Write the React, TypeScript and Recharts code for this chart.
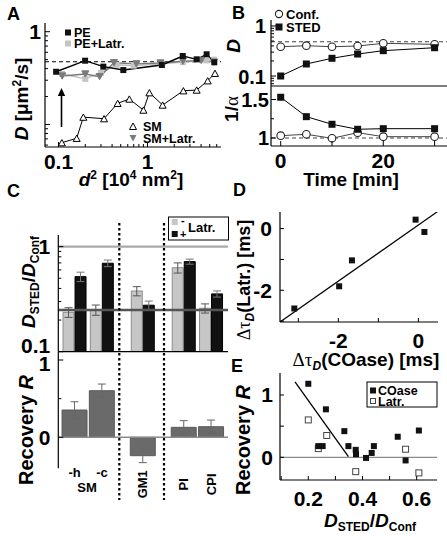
import React from 'react';
import { LineChart, Line, XAxis, YAxis, ReferenceLine, ComposedChart, Bar, ErrorBar, Scatter } from 'recharts';

const FONT = '"Liberation Sans", Arial, Helvetica, sans-serif';
const SERIF = '"Liberation Serif", "DejaVu Serif", serif';

// ---------- Panel A ----------
const aPEx = [0.094, 0.199, 0.319, 0.535, 1.45, 2.49, 3.57, 4.62, 5.63];
const aPEy = [0.37, 0.487, 0.42, 0.386, 0.438, 0.547, 0.504, 0.571, 0.468];
const aPELatrX = [0.11, 0.2, 0.3, 0.45, 0.7, 1.45, 2.5, 4.6, 5.6];
const aPELatrY = [0.35, 0.31, 0.36, 0.44, 0.43, 0.45, 0.47, 0.49, 0.5];
const aSMx = [0.109, 0.16, 0.19, 0.325, 0.462, 0.625, 0.9, 1.05, 1.48, 2.53, 3.57, 4.75, 5.73];
const aSMy = [0.0637, 0.071, 0.12, 0.1155, 0.169, 0.188, 0.143, 0.22, 0.162, 0.231, 0.235, 0.296, 0.356];
const aSMLatrX = [0.11, 0.2, 0.29, 0.42, 0.75, 1.4, 2.5, 4.0, 5.6];
const aSMLatrY = [0.333, 0.35, 0.328, 0.463, 0.45, 0.46, 0.48, 0.49, 0.47];
const aRefD = 0.475;
const aXTicks = [0.1, 0.2, 0.3, 0.4, 0.5, 0.6, 0.7, 0.8, 0.9, 1, 2, 3, 4, 5, 6];
const aXLabels: Record<string, string> = { '0.1': '0.1', '1': '1' };
const aYTicks = [0.06, 0.07, 0.08, 0.09, 0.1, 0.2, 0.3, 0.4, 0.5, 0.6, 0.7, 0.8, 0.9, 1];
const aYLabels: Record<string, string> = { '1': '1', '0.1': '' };

// ---------- Panel B ----------
const bTime = [0, 5, 10, 15, 20, 30];
const bConfD = [0.385, 0.404, 0.385, 0.398, 0.45, 0.43];
const bStedD = [0.1, 0.174, 0.226, 0.275, 0.321, 0.368];
const bConfA = [1.03, 1.048, 0.996, 1.069, 1.017, 1.017];
const bStedA = [1.529, 1.277, 1.178, 1.113, 1.121, 1.121];
const bRefD = 0.485;
const bRefA = 1;
const bXTicks = [0, 10, 20, 30];
const bXLabels: Record<string, string> = { '0': '0', '10': '', '20': '20', '30': '' };
const bDTicks = [0.07, 0.08, 0.09, 0.1, 0.2, 0.3, 0.4, 0.5, 0.6, 0.7, 0.8, 0.9, 1];
const bDLabels: Record<string, string> = { '0.1': '0.1', '1': '1' };
const bATicks = [1, 1.25, 1.5];
const bALabels: Record<string, string> = { '1': '1', '1.5': '1.5' };

// ---------- Panel C ----------
const cCats = ['-h', '-c', 'GM1', 'PI', 'CPI'];
const cPos = [0, 2, 5, 8, 10];
const cMinus = [0.237, 0.25, 0.378, 0.63, 0.259];
const cMinusErr = [0.025, 0.028, 0.038, 0.07, 0.026];
const cPlus = [0.518, 0.695, 0.277, 0.72, 0.355];
const cPlusErr = [0.053, 0.05, 0.026, 0.04, 0.024];
const cRec = [0.353, 0.603, -0.238, 0.129, 0.137];
const cRecErr = [0.107, 0.086, 0.09, 0.086, 0.086];
const cRefOne = 1;
const cRefLevel = 0.25;
const cTopTicks = [0.1, 0.2, 0.3, 0.4, 0.5, 0.6, 0.7, 0.8, 0.9, 1];
const cTopLabels: Record<string, string> = { '0.1': '0.1', '1': '1' };
const cBotTicks = [0, 0.5, 1];
const cBotLabels: Record<string, string> = { '0': '0', '1': '1' };

// ---------- Panel D ----------
const dX = [-3.1, -1.98, -1.66, -0.07, 0.15];
const dY = [-2.59, -1.87, -1.03, 0.29, -0.11];
const dFitX = [-3.45, 0.49];
const dFitY = [-3.02, 0.56];
const dTicks = [-3, -2, -1, 0];
const dLabels: Record<string, string> = { '-2': '-2', '0': '0' };

// ---------- Panel E ----------
const eCOx = [0.2, 0.265, 0.333, 0.348, 0.375, 0.376, 0.413, 0.434, 0.442, 0.53, 0.559, 0.608, 0.253, 0.237];
const eCOy = [1.18, 0.77, 0.42, 0.18, 0.12, 0.05, -0.01, 0.07, 0.18, 0.33, -0.05, 0.43, 0.18, 0.18];
const eLx = [0.2, 0.268, 0.237, 0.375, 0.559, 0.608];
const eLy = [0.6, 0.35, 0.14, -0.23, 0.13, -0.25];
const eFitX = [0.151, 0.348];
const eFitY = [1.21, 0.01];
const eXTicks = [0.1, 0.2, 0.3, 0.4, 0.5, 0.6];
const eXLabels: Record<string, string> = { '0.2': '0.2', '0.4': '0.4', '0.6': '0.6' };
const eYTicks = [0, 0.5, 1];
const eYLabels: Record<string, string> = { '0': '0', '1': '1' };

const pts = (xs: number[], ys: number[]) => xs.map((x, i) => ({ x, y: ys[i] }));
const cData = cCats.map((c, i) => ({
  cat: c, pos: cPos[i], minus: cMinus[i], minusErr: cMinusErr[i], plus: cPlus[i], plusErr: cPlusErr[i], rec: cRec[i], recErr: cRecErr[i],
}));

function geo(px0: number, px1: number, py0: number, py1: number, yw: number, xh: number, mt = 4, mr = 4) {
  const left = px0 - yw;
  const top = py0 - mt;
  return { left, top, width: px1 + mr - left, height: py1 + xh - top, margin: { top: mt, right: mr, left: 0, bottom: 0 }, yw, xh };
}

const mkXTick = (labels: Record<string, string>, dy: number, fs = 21, len = 5, minor = 3) => (p: any) => {
  const { x, y, payload } = p;
  const lab = labels[String(payload.value)];
  const major = lab !== undefined;
  return (
    <g>
      <line x1={x} x2={x} y1={y} y2={y - (major ? len : minor)} stroke="#000" strokeWidth={1} />
      {major && lab !== '' && (
        <text x={x} y={y + dy} textAnchor="middle" fontFamily={FONT} fontWeight="bold" fontSize={fs} fill="#000">{lab}</text>
      )}
    </g>
  );
};

const mkYTick = (labels: Record<string, string>, gap: number, fs = 21, len = 5, minor = 3, dys: Record<string, number> = {}) => (p: any) => {
  const { x, y, payload } = p;
  const key = String(payload.value);
  const lab = labels[key];
  const major = lab !== undefined;
  const dy = dys[key] !== undefined ? dys[key] : 7.5;
  return (
    <g>
      <line x1={x} x2={x + (major ? len : minor)} y1={y} y2={y} stroke="#000" strokeWidth={1} />
      {major && lab !== '' && (
        <text x={x - gap} y={y} dy={dy} textAnchor="end" fontFamily={FONT} fontWeight="bold" fontSize={fs} fill="#000">{lab}</text>
      )}
    </g>
  );
};

const sqDot = (fill: string, s = 6, stroke = 'none') => (p: any) => {
  if (p.cx == null || p.cy == null) return <g key={p.index} />;
  return <rect key={p.index} x={p.cx - s / 2} y={p.cy - s / 2} width={s} height={s} fill={fill} stroke={stroke} strokeWidth={1} />;
};
const triDot = (fill: string, stroke: string, down: boolean, s = 7) => (p: any) => {
  if (p.cx == null || p.cy == null) return <g key={p.index} />;
  const h = s * 0.9;
  const d = down ? -1 : 1;
  const pts2 = `${p.cx - s / 2},${p.cy + (d * h) / 2} ${p.cx + s / 2},${p.cy + (d * h) / 2} ${p.cx},${p.cy - (d * h) / 2}`;
  return <polygon key={p.index} points={pts2} fill={fill} stroke={stroke} strokeWidth={1} />;
};
const circDot = (p: any) => {
  if (p.cx == null || p.cy == null) return <g key={p.index} />;
  return <circle key={p.index} cx={p.cx} cy={p.cy} r={3.8} fill="#fff" stroke="#222" strokeWidth={1.1} />;
};

const AX = { stroke: '#000', strokeWidth: 1.2 };

const Box: React.FC<{ g: any; children: any }> = ({ g, children }) => (
  <div style={{ position: 'absolute', left: g.left, top: g.top }}>{children}</div>
);

export default function App() {
  const gA = geo(45, 221, 23, 147, 45, 30, 5, 5);
  const gBt = geo(271, 447, 20, 86, 46, 1, 5, 0);
  const gBb = geo(271, 447, 86, 146, 46, 30, 4, 0);
  const gCt = geo(58.3, 228, 235, 351.7, 58.3, 20, 4, 4);
  const gCb = geo(58.3, 228, 352, 468.3, 58.3, 40, 10, 4);
  const gD = geo(280, 438, 211.7, 321.7, 50, 30, 5, 9);
  const gE = geo(280, 437, 373, 480, 50, 30, 5, 10);

  const T = (props: any) => <text fontFamily={FONT} fontWeight="bold" fill="#000" {...props} />;

  return (
    <div style={{ position: 'relative', width: 447, height: 540, background: '#fff', overflow: 'hidden' }}>
      <style>{`body{margin:0;}`}</style>

      {/* Panel A */}
      <Box g={gA}>
        <LineChart width={gA.width} height={gA.height} margin={gA.margin}>
          <XAxis type="number" dataKey="x" scale="log" domain={[0.0705, 6.7]} allowDataOverflow ticks={aXTicks} interval={0}
            height={gA.xh} tickSize={0} tickMargin={0} tickLine={false} axisLine={AX} tick={mkXTick(aXLabels, 22)} />
          <YAxis type="number" scale="log" domain={[0.0572, 1.241]} allowDataOverflow ticks={aYTicks} interval={0}
            width={gA.yw} tickSize={0} tickMargin={0} tickLine={false} axisLine={AX} tick={mkYTick(aYLabels, 4)} />
          <ReferenceLine y={aRefD} stroke="#000" strokeWidth={1.1} strokeDasharray="4 3" />
          <Line data={pts(aPELatrX, aPELatrY)} dataKey="y" stroke="#bdbdbd" strokeWidth={1.4} dot={sqDot('#c4c4c4')} isAnimationActive={false} />
          <Line data={pts(aSMLatrX, aSMLatrY)} dataKey="y" stroke="#7a7a7a" strokeWidth={1.4} dot={triDot('#7a7a7a', '#7a7a7a', true)} isAnimationActive={false} />
          <Line data={pts(aSMx, aSMy)} dataKey="y" stroke="#000" strokeWidth={1} dot={triDot('#fff', '#000', false)} isAnimationActive={false} />
          <Line data={pts(aPEx, aPEy)} dataKey="y" stroke="#000" strokeWidth={1.4} dot={sqDot('#111')} isAnimationActive={false} />
        </LineChart>
      </Box>

      {/* Panel B top */}
      <Box g={gBt}>
        <LineChart width={gBt.width} height={gBt.height} margin={gBt.margin}>
          <XAxis type="number" dataKey="x" domain={[-1.89, 32.42]} allowDataOverflow height={gBt.xh} tick={false} tickLine={false} axisLine={AX} />
          <YAxis type="number" scale="log" domain={[0.0631, 1.318]} allowDataOverflow ticks={bDTicks} interval={0}
            width={gBt.yw} tickSize={0} tickMargin={0} tickLine={false} axisLine={AX} tick={mkYTick(bDLabels, 5, 20)} />
          <ReferenceLine y={bRefD} stroke="#444" strokeWidth={1.1} strokeDasharray="4 3" />
          <Line data={pts(bTime, bConfD)} dataKey="y" stroke="#444" strokeWidth={1} dot={circDot} isAnimationActive={false} />
          <Line data={pts(bTime, bStedD)} dataKey="y" stroke="#000" strokeWidth={1} dot={sqDot('#111', 7)} isAnimationActive={false} />
        </LineChart>
      </Box>

      {/* Panel B bottom */}
      <Box g={gBb}>
        <LineChart width={gBb.width} height={gBb.height} margin={gBb.margin}>
          <XAxis type="number" dataKey="x" domain={[-1.89, 32.42]} allowDataOverflow ticks={bXTicks} interval={0}
            height={gBb.xh} tickSize={0} tickMargin={0} tickLine={false} axisLine={AX} tick={mkXTick(bXLabels, 22)} />
          <YAxis type="number" domain={[0.896, 1.675]} allowDataOverflow ticks={bATicks} interval={0}
            width={gBb.yw} tickSize={0} tickMargin={0} tickLine={false} axisLine={AX} tick={mkYTick(bALabels, 2, 20)} />
          <ReferenceLine y={bRefA} stroke="#444" strokeWidth={1.1} strokeDasharray="4 3" />
          <Line data={pts(bTime, bConfA)} dataKey="y" stroke="#444" strokeWidth={1} dot={circDot} isAnimationActive={false} />
          <Line data={pts(bTime, bStedA)} dataKey="y" stroke="#000" strokeWidth={1} dot={sqDot('#111', 7)} isAnimationActive={false} />
        </LineChart>
      </Box>

      {/* Panel C top */}
      <Box g={gCt}>
        <ComposedChart width={gCt.width} height={gCt.height} margin={gCt.margin} data={cData} barGap={1}>
          <XAxis type="number" dataKey="pos" domain={[-1.2, 11.23]} allowDataOverflow ticks={cPos} interval={0} height={gCt.xh} tick={false} tickLine={false} axisLine={AX} />
          <YAxis type="number" scale="log" domain={[0.1, 1.29]} allowDataOverflow ticks={cTopTicks} interval={0}
            width={gCt.yw} tickSize={0} tickMargin={0} tickLine={false} axisLine={AX} tick={mkYTick(cTopLabels, 8, 21, 5, 3, { '0.1': 1 })} />
          <Bar dataKey="minus" barSize={11} fill="#c6c6c6" stroke="#8c8c8c" strokeWidth={1} isAnimationActive={false}>
            <ErrorBar dataKey="minusErr" width={4} stroke="#555" strokeWidth={1} />
          </Bar>
          <Bar dataKey="plus" barSize={11} fill="#111" stroke="#000" strokeWidth={1} isAnimationActive={false}>
            <ErrorBar dataKey="plusErr" width={4} stroke="#777" strokeWidth={1} />
          </Bar>
          <ReferenceLine y={cRefOne} stroke="#aaa" strokeWidth={2.2} />
          <ReferenceLine y={cRefLevel} stroke="#555" strokeWidth={2.5} />
        </ComposedChart>
      </Box>

      {/* Panel C bottom */}
      <Box g={gCb}>
        <ComposedChart width={gCb.width} height={gCb.height} margin={gCb.margin} data={cData}>
          <XAxis type="number" dataKey="pos" domain={[-1.2, 11.23]} allowDataOverflow ticks={cPos} interval={0} height={gCb.xh}
            tickSize={0} tickMargin={0} tickLine={false} axisLine={false}
            tick={(p: any) => {
              const i = cPos.indexOf(p.payload.value);
              const lab = cCats[i];
              if (i < 2) {
                return <text x={p.x} y={p.y + 9} textAnchor="middle" fontFamily={FONT} fontWeight="bold" fontSize={13} fill="#000">{lab}</text>;
              }
              return (
                <text transform={`translate(${p.x},${p.y + 16}) rotate(-90)`} dy={4.5} textAnchor="middle" fontFamily={FONT} fontWeight="bold" fontSize={13} fill="#000">{lab}</text>
              );
            }} />
          <YAxis type="number" domain={[-0.401, 1.1035]} allowDataOverflow ticks={cBotTicks} interval={0}
            width={gCb.yw} tickSize={0} tickMargin={0} tickLine={false} axisLine={AX} tick={mkYTick(cBotLabels, 8, 21, 5, 3, { '1': 11 })} />
          <ReferenceLine y={0} stroke="#8a8a8a" strokeWidth={1.5} />
          <Bar dataKey="rec" barSize={25} fill="#6a6a6a" stroke="#5a5a5a" strokeWidth={1} isAnimationActive={false}>
            <ErrorBar dataKey="recErr" width={4} stroke="#666" strokeWidth={1} />
          </Bar>
        </ComposedChart>
      </Box>

      {/* Panel D */}
      <Box g={gD}>
        <ComposedChart width={gD.width} height={gD.height} margin={gD.margin}>
          <XAxis type="number" dataKey="x" domain={[-3.458, 0.49]} allowDataOverflow ticks={dTicks} interval={0}
            height={gD.xh} tickSize={0} tickMargin={0} tickLine={false} axisLine={AX} tick={mkXTick(dLabels, 26, 21, 4, 4)} />
          <YAxis type="number" dataKey="y" domain={[-3.028, 0.538]} allowDataOverflow ticks={dTicks} interval={0}
            width={gD.yw} tickSize={0} tickMargin={0} tickLine={false} axisLine={AX} tick={mkYTick(dLabels, 8, 21, 4, 4)} />
          <Line data={pts(dFitX, dFitY)} dataKey="y" stroke="#000" strokeWidth={1.3} dot={false} isAnimationActive={false} />
          <Scatter data={pts(dX, dY)} fill="#111" shape={sqDot('#111', 6)} isAnimationActive={false} />
        </ComposedChart>
      </Box>

      {/* Panel E */}
      <Box g={gE}>
        <ComposedChart width={gE.width} height={gE.height} margin={gE.margin}>
          <XAxis type="number" dataKey="x" domain={[0.0956, 0.6749]} allowDataOverflow ticks={eXTicks} interval={0}
            height={gE.xh} tickSize={0} tickMargin={0} tickLine={false} axisLine={AX} tick={mkXTick(eXLabels, 26, 21, 4, 4)} />
          <YAxis type="number" dataKey="y" domain={[-0.364, 1.353]} allowDataOverflow ticks={eYTicks} interval={0}
            width={gE.yw} tickSize={0} tickMargin={0} tickLine={false} axisLine={AX} tick={mkYTick(eYLabels, 7, 21, 4, 4)} />
          <ReferenceLine y={0} stroke="#8a8a8a" strokeWidth={1.3} />
          <Line data={pts(eFitX, eFitY)} dataKey="y" stroke="#000" strokeWidth={1.3} dot={false} isAnimationActive={false} />
          <Scatter data={pts(eLx, eLy)} fill="#fff" shape={sqDot('#fff', 6, '#444')} isAnimationActive={false} />
          <Scatter data={pts(eCOx, eCOy)} fill="#111" shape={sqDot('#111', 6)} isAnimationActive={false} />
        </ComposedChart>
      </Box>

      {/* Overlay texts and annotations */}
      <svg width={447} height={540} style={{ position: 'absolute', left: 0, top: 0, pointerEvents: 'none' }}>
        {/* Panel letters */}
        <T x={7} y={20} fontSize={18}>A</T>
        <T x={232} y={19} fontSize={18}>B</T>
        <T x={7} y={197} fontSize={18}>C</T>
        <T x={233} y={196} fontSize={18}>D</T>
        <T x={231} y={372} fontSize={18}>E</T>

        {/* A legend */}
        <rect x={65} y={29.5} width={6} height={6} fill="#111" />
        <T x={74} y={36.5} fontSize={12.5}>PE</T>
        <rect x={65} y={40.5} width={6} height={6} fill="#c4c4c4" />
        <T x={74} y={48} fontSize={12.5}>PE+Latr.</T>
        <polygon points="129.5,129.5 136.5,129.5 133,123" fill="#fff" stroke="#000" strokeWidth={1} />
        <T x={143} y={131} fontSize={12.5}>SM</T>
        <polygon points="129.5,135 136.5,135 133,141.5" fill="#7a7a7a" />
        <T x={143} y={143} fontSize={12.5}>SM+Latr.</T>
        {/* A arrow */}
        <line x1={61.5} y1={127} x2={61.5} y2={95} stroke="#000" strokeWidth={1.6} />
        <polygon points="57.8,96 65.2,96 61.5,88" fill="#000" />
        {/* A axis titles */}
        <T transform="translate(21,99) rotate(-90)" textAnchor="middle" dy={7} fontSize={19}>
          <tspan fontStyle="italic">D</tspan><tspan> [μm</tspan><tspan dy={-7} fontSize={12}>2</tspan><tspan dy={7}>/s]</tspan>
        </T>
        <T x={131} y={185.5} textAnchor="middle" fontSize={19}>
          <tspan fontStyle="italic">d</tspan><tspan dy={-7} fontSize={12}>2</tspan><tspan dy={7}> [10</tspan><tspan dy={-7} fontSize={12}>4</tspan><tspan dy={7}> nm</tspan><tspan dy={-7} fontSize={12}>2</tspan><tspan dy={7}>]</tspan>
        </T>

        {/* B legend */}
        <circle cx={279} cy={14} r={3.6} fill="#fff" stroke="#222" strokeWidth={1.1} />
        <T x={286} y={18.5} fontSize={13}>Conf.</T>
        <rect x={275.5} y={23.5} width={7} height={7} fill="#111" />
        <T x={286} y={31.5} fontSize={13}>STED</T>
        {/* B axis titles */}
        <T transform="translate(233,46) rotate(-90)" textAnchor="middle" dy={7} fontSize={19} fontStyle="italic">D</T>
        <T transform="translate(231,109) rotate(-90)" textAnchor="middle" dy={7} fontSize={19}>
          <tspan>1/</tspan><tspan fontFamily={SERIF} fontWeight="normal">α</tspan>
        </T>
        <T x={351} y={185.5} textAnchor="middle" fontSize={19}>Time [min]</T>

        {/* C legend */}
        <rect x={168.5} y={217} width={60} height={23} fill="#fff" stroke="#000" strokeWidth={1} />
        <rect x={171.7} y={219} width={6} height={6} fill="#c6c6c6" />
        <T x={181} y={224} fontSize={11}>-</T>
        <rect x={171.7} y={231} width={6} height={6} fill="#111" />
        <T x={180} y={238} fontSize={11}>+</T>
        <T x={188} y={232} fontSize={13}>Latr.</T>
        {/* C dividers */}
        <line x1={119.3} x2={119.3} y1={223} y2={500} stroke="#000" strokeWidth={2.2} strokeDasharray="2.5 2.5" />
        <line x1={164} x2={164} y1={223} y2={500} stroke="#000" strokeWidth={2.2} strokeDasharray="2.5 2.5" />
        {/* C axis titles */}
        <T transform="translate(28,282) rotate(-90)" textAnchor="middle" dy={7} fontSize={19}>
          <tspan fontStyle="italic">D</tspan><tspan fontSize={12} dy={4}>STED</tspan><tspan dy={-4}>/</tspan><tspan fontStyle="italic">D</tspan><tspan fontSize={12} dy={4}>Conf</tspan>
        </T>
        <T transform="translate(26,430) rotate(-90)" textAnchor="middle" dy={7} fontSize={20}>
          <tspan>Recovery </tspan><tspan fontStyle="italic">R</tspan>
        </T>
        <T x={87} y={492} textAnchor="middle" fontSize={13}>SM</T>

        {/* D axis titles */}
        <T transform="translate(243,280) rotate(-90)" textAnchor="middle" dy={7} fontSize={18}>
          <tspan fontFamily={SERIF} fontWeight="normal">Δτ</tspan><tspan fontSize={12} fontStyle="italic" dy={4}>D</tspan><tspan dy={-4}>(Latr.) [ms]</tspan>
        </T>
        <T x={366} y={366} textAnchor="middle" fontSize={19}>
          <tspan fontFamily={SERIF} fontWeight="normal">Δτ</tspan><tspan fontSize={12} fontStyle="italic" dy={4}>D</tspan><tspan dy={-4}>(COase) [ms]</tspan>
        </T>

        {/* E legend */}
        <rect x={367} y={382} width={70} height={25} fill="#fff" stroke="#000" strokeWidth={1} />
        <rect x={370} y={387.5} width={6} height={6} fill="#111" />
        <T x={378} y={395} fontSize={12.5}>COase</T>
        <rect x={370.5} y={398.5} width={5} height={5} fill="#fff" stroke="#444" />
        <T x={378} y={405.5} fontSize={12.5}>Latr.</T>
        {/* E axis titles */}
        <T transform="translate(243,440) rotate(-90)" textAnchor="middle" dy={7} fontSize={20}>
          <tspan>Recovery </tspan><tspan fontStyle="italic">R</tspan>
        </T>
        <T x={370} y={527} textAnchor="middle" fontSize={19}>
          <tspan fontStyle="italic">D</tspan><tspan fontSize={12} dy={4}>STED</tspan><tspan dy={-4}>/</tspan><tspan fontStyle="italic">D</tspan><tspan fontSize={12} dy={4}>Conf</tspan>
        </T>
      </svg>
    </div>
  );
}
